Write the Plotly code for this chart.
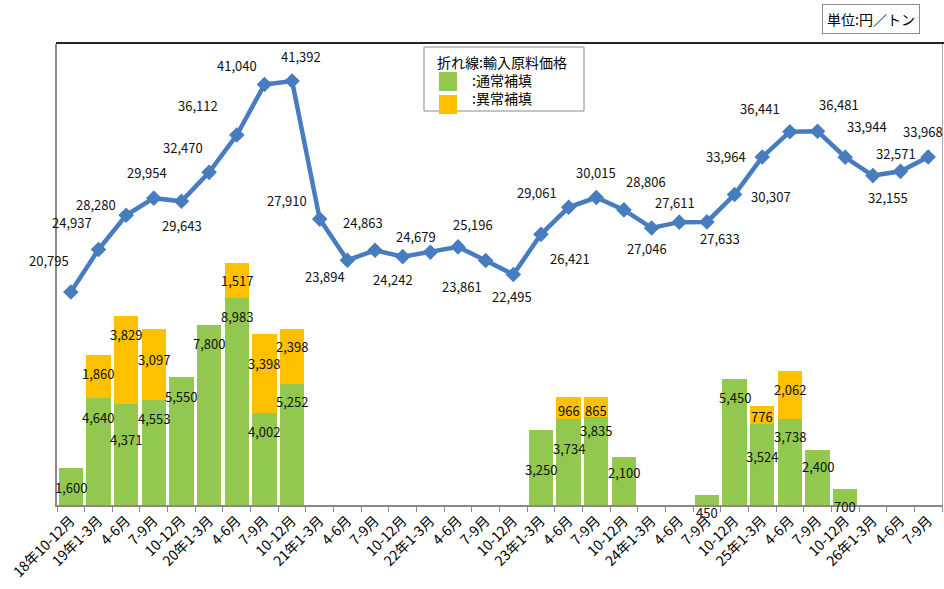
import plotly.graph_objects as go

# 四半期（内部キー）と表示用の目盛ラベル
quarters = [
    "18年10-12月", "19年1-3月", "19年4-6月", "19年7-9月", "19年10-12月",
    "20年1-3月", "20年4-6月", "20年7-9月", "20年10-12月",
    "21年1-3月", "21年4-6月", "21年7-9月", "21年10-12月",
    "22年1-3月", "22年4-6月", "22年7-9月", "22年10-12月",
    "23年1-3月", "23年4-6月", "23年7-9月", "23年10-12月",
    "24年1-3月", "24年4-6月", "24年7-9月", "24年10-12月",
    "25年1-3月", "25年4-6月", "25年7-9月", "25年10-12月",
    "26年1-3月", "26年4-6月", "26年7-9月",
]
tick_labels = [
    "18年10-12月", "19年1-3月", "4-6月", "7-9月", "10-12月",
    "20年1-3月", "4-6月", "7-9月", "10-12月",
    "21年1-3月", "4-6月", "7-9月", "10-12月",
    "22年1-3月", "4-6月", "7-9月", "10-12月",
    "23年1-3月", "4-6月", "7-9月", "10-12月",
    "24年1-3月", "4-6月", "7-9月", "10-12月",
    "25年1-3月", "4-6月", "7-9月", "10-12月",
    "26年1-3月", "4-6月", "7-9月",
]

# 輸入原料価格（円／トン）
import_price = [
    20795, 24937, 28280, 29954, 29643, 32470, 36112, 41040, 41392,
    27910, 23894, 24863, 24242, 24679, 25196, 23861, 22495,
    26421, 29061, 30015, 28806, 27046, 27611, 27633, 30307,
    33964, 36441, 36481, 33944, 32155, 32571, 33968,
]

# 通常補填・異常補填（円／トン）、None は補填なし
normal_comp = [
    1600, 4640, 4371, 4553, 5550, 7800, 8983, 4002, 5252,
    None, None, None, None, None, None, None, None,
    3250, 3734, 3835, 2100, None, None, 450, 5450,
    3524, 3738, 2400, 700, None, None, None,
]
abnormal_comp = [
    None, 1860, 3829, 3097, None, None, 1517, 3398, 2398,
    None, None, None, None, None, None, None, None,
    None, 966, 865, None, None, None, None, None,
    776, 2062, None, None, None, None, None,
]

GREEN = "#92C850"
ORANGE = "#FFC000"
BLUE = "#477DBF"
FONT = "Noto Sans CJK JP"

# 折れ線ラベルの配置（点からのずらし量 px）
price_label_shift = [
    (-22, 31), (-26, 27), (-30, 11), (-7, 26), (1, -24), (-26, 25), (-39, 30),
    (-27, 19), (9, 24), (-33, 19), (-22, -16), (-12, 28), (-10, -23), (-14, 16),
    (15, 22), (-24, -26), (-1, -22), (29, -24), (-32, 15), (0, 25), (22, 28),
    (-5, -21), (-4, 20), (13, -17), (36, -2), (-36, 1), (-30, 23), (21, 27),
    (22, 31), (15, -22), (-5, 18), (-5, 26),
]
# 棒ラベルの縦位置（棒の上端からのずらし量 px）
normal_label_dy = [
    -19, -19, -35, -18, -19, -18, -19, -19, -18,
    0, 0, 0, 0, 0, 0, 0, 0,
    -39, -30, -14, -16, 0, 0, -18, -18,
    -33, -18, -17, -18, 0, 0, 0,
]
abnormal_label_dy = [
    0, -18, -19, -31, 0, 0, -18, -29, -18,
    0, 0, 0, 0, 0, 0, 0, 0,
    0, -14, -14, 0, 0, 0, 0, 0,
    -11, -18, 0, 0, 0, 0, 0,
]

# プロット領域（px）
W, H = 944, 589
PL, PR, PT, PB = 57, 942, 44, 505


def px_x(x):
    return (x - PL) / (PR - PL)


def px_y(y):
    return (PB - y) / (PB - PT)


fig = go.Figure()

fig.add_trace(go.Bar(
    x=quarters, y=normal_comp, name="通常補填",
    marker=dict(color=GREEN, line=dict(width=0)), yaxis="y",
))
fig.add_trace(go.Bar(
    x=quarters, y=abnormal_comp, name="異常補填",
    marker=dict(color=ORANGE, line=dict(width=0)), yaxis="y",
))
fig.add_trace(go.Scatter(
    x=quarters, y=import_price, name="輸入原料価格", mode="lines+markers",
    line=dict(color=BLUE, width=4.5),
    marker=dict(symbol="diamond", size=12, color=BLUE),
    yaxis="y2",
))

annotations = []
label_font = dict(family=FONT, size=13, color="#111")

for q, v, (dx, dy) in zip(quarters, import_price, price_label_shift):
    annotations.append(dict(
        x=q, y=v, xref="x", yref="y2", text=f"{v:,}", showarrow=False,
        xshift=dx, yshift=dy, font=label_font,
    ))

for q, n, a, dn, da in zip(quarters, normal_comp, abnormal_comp,
                           normal_label_dy, abnormal_label_dy):
    if n is not None:
        annotations.append(dict(
            x=q, y=n, xref="x", yref="y", text=f"{n:,}", showarrow=False,
            yshift=dn, font=label_font,
        ))
    if a is not None:
        annotations.append(dict(
            x=q, y=(n or 0) + a, xref="x", yref="y", text=f"{a:,}",
            showarrow=False, yshift=da, font=label_font,
        ))

# 単位表示
annotations.append(dict(
    x=px_x(871), y=px_y(19), xref="paper", yref="paper",
    xanchor="center", yanchor="middle", text="単位:円／トン",
    showarrow=False, font=dict(family=FONT, size=14, color="#000"),
    bordercolor="#8a8a8a", borderwidth=1, borderpad=4, bgcolor="white",
))

# 凡例ボックス（見出しと2項目）
annotations.append(dict(
    x=px_x(435), y=px_y(80), xref="paper", yref="paper",
    xanchor="left", yanchor="middle", align="left",
    text="折れ線:輸入原料価格<br>\u3000\u3000\u2002:通常補填<br>\u3000\u3000\u2002:異常補填",
    showarrow=False, font=dict(family=FONT, size=14, color="#000"),
))

shapes = [
    dict(type="rect", xref="paper", yref="paper",
         x0=px_x(424), x1=px_x(584), y0=px_y(111), y1=px_y(47),
         line=dict(color="#8a8a8a", width=1), fillcolor="white", layer="below"),
    dict(type="rect", xref="paper", yref="paper",
         x0=px_x(439), x1=px_x(457), y0=px_y(91), y1=px_y(72),
         line=dict(width=0), fillcolor=GREEN),
    dict(type="rect", xref="paper", yref="paper",
         x0=px_x(439), x1=px_x(457), y0=px_y(114), y1=px_y(95),
         line=dict(width=0), fillcolor=ORANGE),
    # 上辺の枠線
    dict(type="line", xref="paper", yref="paper",
         x0=px_x(56), x1=px_x(944), y0=px_y(43), y1=px_y(43),
         line=dict(color="#222", width=2)),
]

fig.update_layout(
    width=W, height=H,
    margin=dict(l=PL, r=W - PR, t=PT, b=H - PB, autoexpand=False),
    paper_bgcolor="white", plot_bgcolor="white",
    barmode="stack", bargap=0.12,
    showlegend=False,
    font=dict(family=FONT, color="#000"),
    xaxis=dict(
        type="category", tickmode="array", tickvals=quarters, ticktext=tick_labels,
        range=[-0.5, len(quarters) - 0.5],
        tickangle=-45, tickson="boundaries", ticks="outside", ticklen=5,
        tickcolor="#888", tickwidth=1, automargin=False,
        showline=True, linecolor="#888", linewidth=2,
        showgrid=False, zeroline=False,
        tickfont=dict(family=FONT, size=14, color="#000"),
    ),
    yaxis=dict(
        range=[0, 20000], showticklabels=False, showgrid=False, zeroline=False,
        showline=True, linecolor="#888", linewidth=2, ticks="", automargin=False,
    ),
    yaxis2=dict(
        range=[0, 45000], overlaying="y", side="right", showticklabels=False,
        showgrid=False, zeroline=False, showline=True, linecolor="#aaa",
        linewidth=1, ticks="", automargin=False,
    ),
    annotations=annotations,
    shapes=shapes,
)

fig.write_html("out.html")
